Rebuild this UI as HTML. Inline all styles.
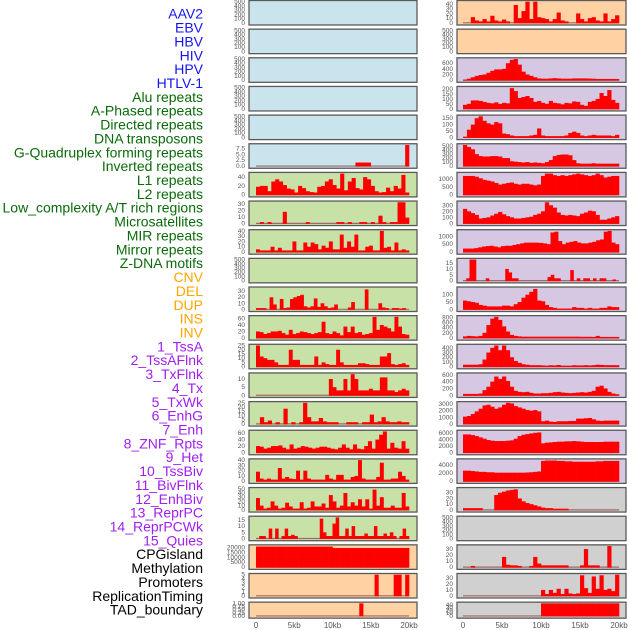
<!DOCTYPE html>
<html><head><meta charset="utf-8"><style>
html,body{margin:0;padding:0;background:#fff;}
svg{display:block;font-family:"Liberation Sans",sans-serif;}
</style></head><body>
<svg id="chart" width="630" height="630" xmlns="http://www.w3.org/2000/svg"></svg>
<script>
const labels = ["AAV2","EBV","HBV","HIV","HPV","HTLV-1","Alu repeats","A-Phased repeats","Directed repeats","DNA transposons","G-Quadruplex forming repeats","Inverted repeats","L1 repeats","L2 repeats","Low_complexity A/T rich regions","Microsatellites","MIR repeats","Mirror repeats","Z-DNA motifs","CNV","DEL","DUP","INS","INV","1_TssA","2_TssAFlnk","3_TxFlnk","4_Tx","5_TxWk","6_EnhG","7_Enh","8_ZNF_Rpts","9_Het","10_TssBiv","11_BivFlnk","12_EnhBiv","13_ReprPC","14_ReprPCWk","15_Quies","CPGisland","Methylation","Promoters","ReplicationTiming","TAD_boundary"];
const labelGroups = ["b","b","b","b","b","b","g","g","g","g","g","g","g","g","g","g","g","g","g","o","o","o","o","o","p","p","p","p","p","p","p","p","p","p","p","p","p","p","p","k","k","k","k","k"];
const xTickLabels = ["0","5kb","10kb","15kb","20kb"];
const xTickValues = [0,5000,10000,15000,20000];
const yTicks = [
[0,100,200,300,400,500],[0,100,200,300,400,500],[0,100,200,300,400,500],[0,100,200,300,400,500],[0,100,200,300,400,500],
[0,2.5,5,7.5],[0,20,40],[0,10,20,30],[0,10,20,30,40],[0,100,200,300,400,500],[0,10,20,30],[0,20,40,60],[0,5,10,15,20,25],[0,5,10],[0,5,10,15,20,25],[0,20,40,60],[0,10,20,30,40],[0,10,20,30,40,50],[0,5,10,15],[0,5000,10000,15000,20000],[0,1,2,3,4,5],[0,0.25,0.5,0.75,1],
[0,10,20,30,40],[0,100,200,300,400,500],[0,200,400,600],[0,50,100,150,200],[0,50,100,150],[0,100,200,300,400,500],[0,500,1000],[0,100,200,300],[0,500,1000],[0,5,10,15],[0,50,100],[0,200,400,600,800],[0,100,200,300,400],[0,200,400,600],[0,1000,2000,3000],[0,2000,4000,6000],[0,2000,4000],[0,10,20,30],[0,100,200,300,400,500],[0,10,20,30],[0,10,20,30],[0,10,20,30,40]
];
const yMax = [500,500,500,500,500,9,48,33,40,500,35,65,25,13,25,65,40,50,17,21500,5,1,
45,500,750,215,165,530,1350,350,1350,18,145,820,450,620,3200,6400,5200,37,500,35,36,45];
const series = [
[],[],[],[],[],
[0,0,0,0,0,0,0,0,0,0,0,0,0,0,0,0,0,0,0,0,0,0,0,0,0,0,1.5,1.5,1.5,1.5,0,0,0,0,0,0,0,0,0,9],
[18,20,20,8,30,35,30,22,14,12,5,20,15,8,6,5,18,20,30,35,22,14,48,10,30,38,15,12,40,35,20,8,5,6,16,8,20,14,45,5],
[0,2,0,2,0,0,0,18,0,0,0,0,0,2,0,0,0,0,0,0,0,2,2,0,2,0,0,2,2,0,2,0,12,2,0,2,2,33,33,9],
[5,3,3,3,10,3,8,3,3,3,20,3,3,18,10,18,15,5,12,8,20,5,5,33,8,20,10,33,3,3,10,12,3,3,40,8,10,3,18,3,5,3],
[],
[2,2,2,0,20,8,0,17,2,3,17,20,22,24,5,3,5,18,4,10,5,2,3,8,0,0,0,3,12,0,0,0,33,0,0,0,10,3,2,0,2,2,1,2,0],
[20,18,12,15,20,20,22,15,10,25,12,15,20,18,15,12,15,18,50,15,12,20,15,8,35,18,35,15,18,10,12,15,65,25,40,35,30,20,65,35,12,10],
[25,12,10,8,8,5,2,2,2,20,8,8,2,2,2,2,12,2,5,3,2,2,20,5,2,2,2,2,4,4,3,2,2,2,12,12,16,3,2,3,4,2],
[0,0,0,0,0,0,0,0,0,0,0,0,0,0,0,0,0,0,0,0,10,5,3,3,10,3,13,10,3,3,3,4,3,3,11,11,3,3,2,3,4,3],
[0,8,2,4,0,2,0,18,0,2,0,2,25,8,3,3,7,3,2,2,2,0,0,2,2,2,0,2,2,11,2,3,8,3,2,2,3,2,2],
[20,18,12,15,20,20,22,15,10,25,12,15,20,18,15,12,15,18,18,15,12,10,15,25,15,10,25,12,10,20,35,12,40,55,65,12,30,15,12,35,12],
[18,5,3,5,3,3,25,5,8,5,4,20,3,20,5,3,3,3,3,12,5,3,12,12,3,3,8,10,40,5,3,3,3,8,35,3,3,5,5,18,10,3],
[28,10,3,5,20,10,3,5,17,8,3,3,18,3,5,20,8,8,15,5,35,20,5,10,40,8,18,10,25,8,25,3,48,10,30,5,5,10,5,5,40,8],
[0,2,2,0,8,0,8,0,2,8,2,3,2,0,0,0,0,0,0,0,16,5,2,2,12,17,2,2,8,2,10,2,2,2,4,2,2,10,2,2,4,2,5,2,0,2,8,2],
[21000,21000,21000,21000,21000,21000,21000,21000,21000,21000,21000,21000,21000,21000,21000,21000,21000,21000,21000,21000,19500,19500,19500,19500,19500,19500,19500,19500,19500,19500,19500,19500,19500,19500,19500,19500,19500,19500,19500,19500],
[0,0,0,0,0,0,0,0,0,0,0,0,0,0,0,0,0,0,0,0,0,0,0,0,0,0,0,0,0,0,0,5,0,0,0,0,5,5,0,5],
[0,0,0,0,0,0,0,0,0,0,0,0,0,0,0,0,0,0,0,0,0,0,0,0,0,0,0,1,0,0,0,0,0,0,0,0,0,0,0,0],
[0,0,12,5,3,8,3,15,5,3,7,3,0,38,10,25,45,8,45,12,10,8,3,8,22,5,3,0,0,20,8,3,10,12,5,3,20,3,8,16],
[],
[20,50,100,150,180,200,260,330,380,380,400,600,720,750,550,300,200,150,100,60,50,50,60,70,60,50,50,50,60,60,60,60,55,50,40,40,40,40,40,40],
[40,50,85,85,80,70,60,55,65,50,60,55,210,180,110,120,130,110,70,80,60,50,80,60,55,45,60,55,75,70,40,30,70,80,100,160,130,190,90,60],
[5,60,100,150,165,130,110,100,120,110,30,25,15,10,10,10,10,15,20,70,15,10,10,10,10,10,15,35,45,35,15,10,15,20,15,15,15,15,10,20],
[530,480,420,300,250,240,240,250,250,240,200,200,120,110,100,90,100,80,90,80,70,100,150,250,280,290,290,270,150,70,60,60,60,70,60,60,60,60,60,60],
[1200,1200,1200,1150,1050,950,900,850,750,650,700,750,780,700,650,700,700,650,600,650,1200,1350,1350,1250,1200,1250,1200,1250,1300,1350,1300,1250,1200,1250,1350,1250,1100,1150,1200,1200],
[240,200,170,140,80,90,100,130,160,190,150,120,100,80,80,90,100,110,140,160,200,350,300,260,180,140,130,140,130,120,160,180,210,200,140,60,60,80,100,120],
[220,220,220,250,300,350,380,400,350,300,380,400,400,450,500,550,600,600,600,600,580,550,500,1250,1300,700,500,600,650,700,600,550,550,600,650,750,800,1300,1350,600,500],
[0,2,18,18,0,0,0,2,0,0,0,0,0,10,7,2,2,0,0,0,0,0,0,0,0,0,3,5,2,2,0,0,0,9,0,2,0,2,2,0,2,0,2,2,0,0,1,0],
[60,55,50,45,30,25,20,20,20,20,25,25,20,35,50,80,100,120,140,60,55,30,15,10,5,5,5,5,15,10,10,5,10,5,5,10,10,20,15,15],
[60,80,70,60,80,200,500,750,820,700,450,250,120,80,60,50,50,50,50,50,50,50,50,50,50,50,50,50,50,50,45,45,45,40,80,40,40,40,40,40],
[40,40,40,40,50,150,300,400,450,350,450,350,200,120,80,50,40,30,30,30,25,20,30,25,35,20,20,20,30,25,25,30,25,30,40,35,30,30,30,30],
[40,40,40,40,50,150,250,400,550,480,550,420,250,130,100,90,100,70,50,50,60,60,70,90,100,80,70,60,70,80,90,80,100,130,250,280,200,100,50,30],
[1100,1200,1500,1900,2300,2800,2900,2600,2300,2500,2900,3200,3100,2700,2500,2300,2100,2000,2100,1900,400,500,350,300,400,400,400,450,450,800,800,850,900,700,500,450,500,500,500,500],
[5500,5500,5300,5000,4600,4200,3800,3600,3500,3500,3500,3600,3700,4200,5000,5400,5600,5800,6000,6100,2800,3000,3100,3200,3300,3300,3400,3400,3500,3400,3300,3200,3200,3200,3200,3200,3300,3300,3300,3300],
[2600,2600,2500,2400,2300,2300,2200,2200,2100,2100,2100,2100,2100,2100,2100,2100,2150,2200,2300,2400,5000,5100,5100,5100,5000,5000,4900,4900,4800,4800,4800,4800,4800,4800,4900,4900,5000,5000,5000,5000],
[3,3,3,3,3,0,0,0,26,30,32,34,35,36,20,15,12,10,8,6,4,3,3,2,2,2,2,0,0,0,0,0,0,0,0,0,0,0,0,0],
[],
[0,0,2,0,0,0,0,0,0,0,17,4,3,3,2,0,0,2,17,6,3,3,3,3,3,3,3,0,0,0,3,30,3,3,3,0,0,35,0,0],
[0,0,0,0,0,0,0,0,0,0,0,0,0,0,0,0,0,0,0,0,10,3,10,5,12,3,12,4,3,4,35,13,5,33,12,35,10,12,8,36],
[0,0,0,0,0,0,0,0,0,0,0,0,0,0,0,0,0,0,0,0,45,45,45,45,45,45,45,45,45,45,45,45,45,45,45,45,45,45,45,45]
];

const NS = "http://www.w3.org/2000/svg";
const svg = document.getElementById("chart");
function mk(tag, attrs, parent){ const e=document.createElementNS(NS,tag); for(const k in attrs) e.setAttribute(k,attrs[k]); (parent||svg).appendChild(e); return e; }
const groupColor = {b:"#1515f0",g:"#0a6a0a",o:"#ffa500",p:"#a020f0",k:"#000000"};
const bgLeft = i => i<6?"#c9e4ec":(i<19?"#c8e1a6":"#ffd1a3");
const bgRight = i => i<2?"#ffd1a3":(i<17?"#d6c7e3":"#d0d0d0");
const cols = [{x:249,w:168,d0:256,d1:409,tx:245},{x:457,w:169,d0:463,d1:619,tx:453}];
const rowTop = r => 0.5 + r*28.65;
const rowH = r => r===21?16:24.5;

labels.forEach((t,i)=>{
  const e = mk("text",{x:203,y:15+i*13.86,"text-anchor":"end","dominant-baseline":"middle","font-size":"14",fill:groupColor[labelGroups[i]]});
  e.textContent = t;
  
  
});

for(let p=0;p<44;p++){
  const c = p<22?0:1, r = p%22, col = cols[c];
  const top=rowTop(r), h=rowH(r);
  const g = mk("g",{});
  
  
  mk("rect",{x:col.x,y:top,width:col.w,height:h,fill:c===0?bgLeft(r):bgRight(r),stroke:"none"},g);
  const yb = top+h-2.2, yt = top+1.2;
  const yScale = v => yb - v/yMax[p]*(yb-yt);
  const xScale = v => col.d0 + v/20000*(col.d1-col.d0);
  const vals = series[p];
  if(vals.length){
    mk("line",{x1:col.d0,x2:col.d1,y1:yb,y2:yb,stroke:"#a06868","stroke-width":1.2},g);
    const bw = 20000/vals.length;
    vals.forEach((v,k)=>{
      if(v<=0) return;
      const x0=xScale(k*bw), x1=xScale((k+1)*bw), y=yScale(v);
      const b = mk("rect",{x:x0,y:y,width:x1-x0+0.3,height:yb-y+0.5,fill:"#ff0000"},g);
      
      
    });
  }
  mk("rect",{x:col.x,y:top,width:col.w,height:h,fill:"none",stroke:"#5a5a5a","stroke-width":1.3},g);
  const ticks = yTicks[p];
  let dec = 0;
  ticks.forEach(tv=>{ const s=String(tv); if(s.includes(".")) dec=Math.max(dec,s.split(".")[1].length); });
  ticks.forEach(tv=>{
    const t = mk("text",{x:col.tx,y:yScale(tv)+2,"text-anchor":"end","font-size":"6.5",fill:"#555"},g);
    t.textContent = tv.toFixed(dec);
    
    
  });
}
cols.forEach(col=>{
  xTickValues.forEach((v,i)=>{
    const x = col.d0 + v/20000*(col.d1-col.d0);
    const t = mk("text",{x:x,y:628,"text-anchor":"middle","font-size":"8",fill:"#555"});
    t.textContent = xTickLabels[i];
    
    
  });
});
</script>
</body></html>
